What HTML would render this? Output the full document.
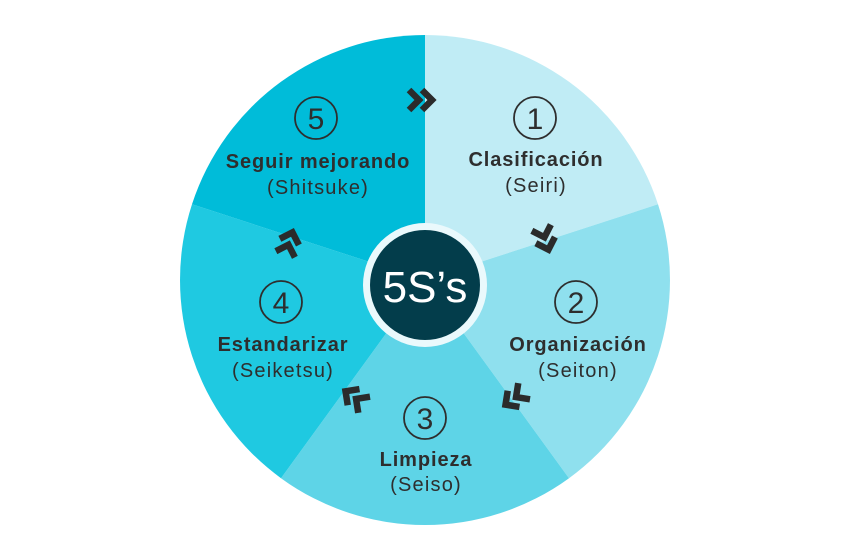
<!DOCTYPE html>
<html><head><meta charset="utf-8"><style>
html,body{margin:0;padding:0;background:#fff;}
svg{display:block}
text{font-family:"Liberation Sans",sans-serif;fill:#2e2e2e;text-anchor:middle}
</style></head><body>
<svg width="850" height="560" viewBox="0 0 850 560" xmlns="http://www.w3.org/2000/svg">
<defs>
<g id="chev" fill="none" stroke="#2b2b2b" stroke-width="6.5" stroke-linejoin="miter" stroke-linecap="butt">
<polyline points="-15,-10 -5,0 -15,10"/>
<polyline points="-2,-10 8,0 -2,10"/>
</g>
</defs>
<g transform="translate(425,280)">
<path d="M0,0 L0,-245 A245,245 0 0 1 233.0,-75.7 Z" fill="#c0ecf5"/>
<path d="M0,0 L233.0,-75.7 A245,245 0 0 1 144.0,198.2 Z" fill="#8fe0ee"/>
<path d="M0,0 L144.0,198.2 A245,245 0 0 1 -144.0,198.2 Z" fill="#5ed4e7"/>
<path d="M0,0 L-144.0,198.2 A245,245 0 0 1 -233.0,-75.7 Z" fill="#1fc9e1"/>
<path d="M0,0 L-233.0,-75.7 A245,245 0 0 1 0,-245 Z" fill="#00bcd9"/>
</g>
<circle cx="425" cy="285" r="62" fill="#eaf9fc"/>
<circle cx="425" cy="285" r="55" fill="#033d4b"/>
<text x="425" y="302" style="font-size:44px;fill:#fff">5S’s</text>

<use href="#chev" transform="translate(424,100)"/>
<use href="#chev" transform="translate(546,242) rotate(72)" />
<use href="#chev" transform="translate(512,400) rotate(144)"/>
<use href="#chev" transform="translate(352,396) rotate(216)"/>
<use href="#chev" transform="translate(290,240) rotate(288)"/>

<g fill="none" stroke="#2e2e2e" stroke-width="1.8">
<circle cx="535" cy="118" r="21"/>
<circle cx="576" cy="302" r="21"/>
<circle cx="425" cy="418" r="21"/>
<circle cx="281" cy="302" r="21"/>
<circle cx="316" cy="118" r="21"/>
</g>
<g style="font-size:30px">
<text x="535" y="129">1</text>
<text x="576" y="313">2</text>
<text x="425" y="429">3</text>
<text x="281" y="313">4</text>
<text x="316" y="129">5</text>
</g>
<g style="font-size:20px;font-weight:bold;letter-spacing:0.9px">
<text x="536" y="166">Clasificación</text>
<text x="578" y="351">Organización</text>
<text x="426" y="466">Limpieza</text>
<text x="283" y="351">Estandarizar</text>
<text x="318" y="168">Seguir mejorando</text>
</g>
<g style="font-size:20px;letter-spacing:1.2px">
<text x="536" y="192">(Seiri)</text>
<text x="578" y="377">(Seiton)</text>
<text x="426" y="491">(Seiso)</text>
<text x="283" y="377">(Seiketsu)</text>
<text x="318" y="194">(Shitsuke)</text>
</g>
</svg>
</body></html>
